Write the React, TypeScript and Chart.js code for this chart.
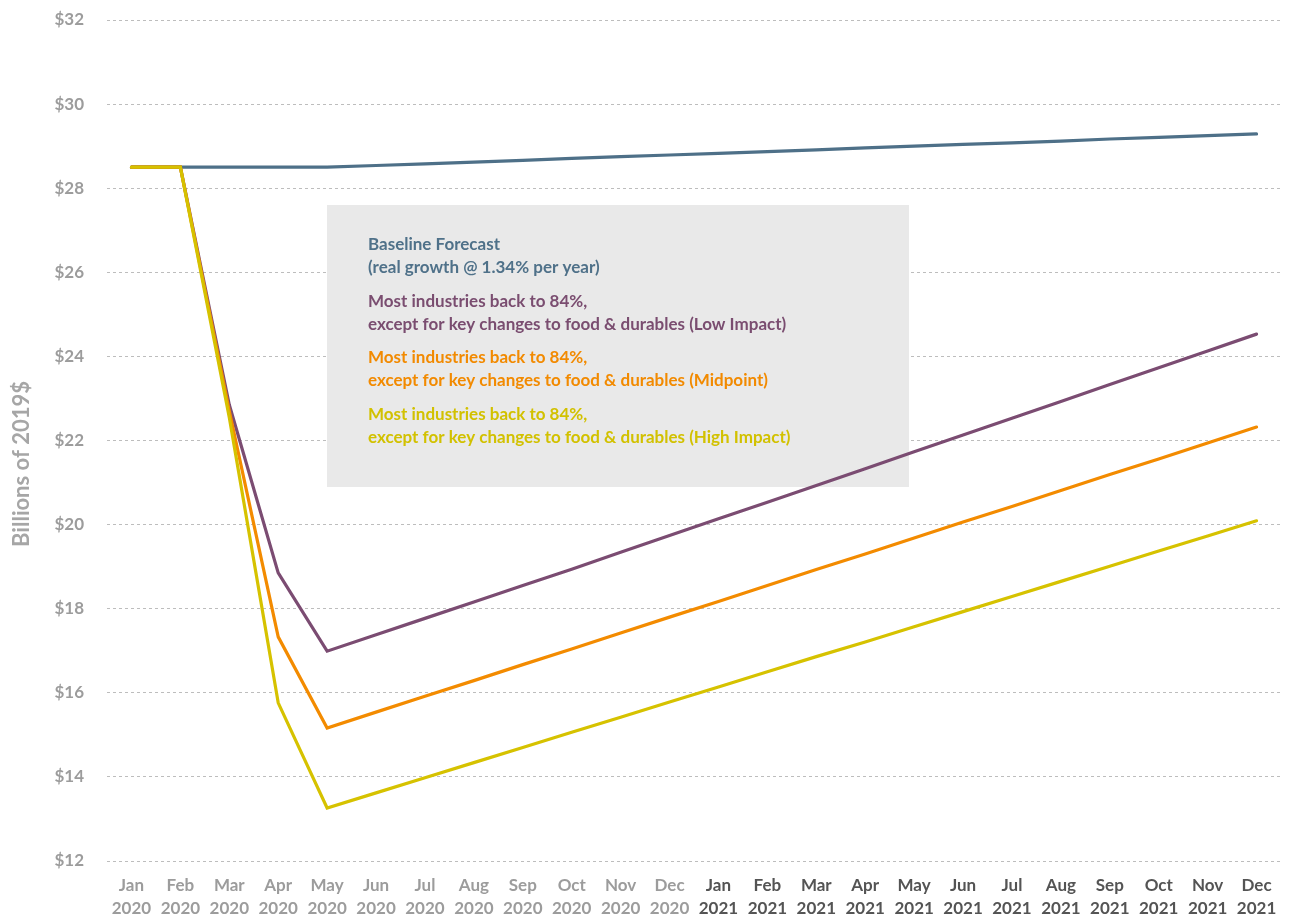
import React, { useEffect, useRef } from "react";
import { Chart, registerables } from "chart.js";

Chart.register(...registerables);

const months = ["Jan", "Feb", "Mar", "Apr", "May", "Jun", "Jul", "Aug", "Sep", "Oct", "Nov", "Dec"];
const years = ["2020", "2021"];
const categories: string[][] = [
  ...months.map((m) => [m, years[0]]),
  ...months.map((m) => [m, years[1]]),
];

const baseline = [28.5, 28.5, 28.5, 28.5, 28.5, 28.54, 28.58, 28.62, 28.66, 28.71, 28.75, 28.79, 28.83, 28.87, 28.91, 28.96, 29.0, 29.04, 29.08, 29.12, 29.17, 29.21, 29.25, 29.29];
const lowImpact = [28.5, 28.5, 22.85, 18.85, 16.99, 17.38, 17.77, 18.16, 18.55, 18.94, 19.34, 19.74, 20.14, 20.53, 20.93, 21.33, 21.73, 22.13, 22.53, 22.93, 23.33, 23.73, 24.13, 24.53];
const midpoint = [28.5, 28.5, 22.7, 17.33, 15.16, 15.54, 15.92, 16.29, 16.67, 17.04, 17.42, 17.8, 18.17, 18.55, 18.93, 19.3, 19.68, 20.06, 20.43, 20.81, 21.19, 21.56, 21.94, 22.32];
const highImpact = [28.5, 28.5, 22.55, 15.76, 13.26, 13.62, 13.98, 14.34, 14.7, 15.06, 15.42, 15.78, 16.14, 16.5, 16.86, 17.21, 17.57, 17.93, 18.29, 18.65, 19.01, 19.37, 19.73, 20.09];

const legendLines: { color: string; lines: string[] }[] = [
  { color: "#4F7189", lines: ["Baseline Forecast", "(real growth @ 1.34% per year)"] },
  { color: "#7A4D70", lines: ["Most industries back to 84%,", "except for key changes to food & durables (Low Impact)"] },
  { color: "#F28A00", lines: ["Most industries back to 84%,", "except for key changes to food & durables (Midpoint)"] },
  { color: "#D2C100", lines: ["Most industries back to 84%,", "except for key changes to food & durables (High Impact)"] },
];

const yTitle = "Billions of 2019$";
const FONT = "Lato, 'Noto Sans', sans-serif";

const legendBoxPlugin = {
  id: "legendBox",
  beforeDatasetsDraw(chart: any) {
    const ctx = chart.ctx;
    ctx.save();
    ctx.fillStyle = "#E9E9E9";
    ctx.fillRect(327, 205, 582, 282);
    ctx.font = `700 17px ${FONT}`;
    ctx.textBaseline = "middle";
    ctx.textAlign = "left";
    let y = 245;
    legendLines.forEach((g) => {
      ctx.fillStyle = g.color;
      g.lines.forEach((t, i) => {
        ctx.fillText(t, 368, y + i * 23);
      });
      y += 56.5;
    });
    ctx.restore();
  },
  afterDraw(chart: any) {
    const ctx = chart.ctx;
    ctx.save();
    ctx.translate(22, 464);
    ctx.rotate(-Math.PI / 2);
    ctx.font = `700 22px ${FONT}`;
    ctx.fillStyle = "#A6A6A6";
    ctx.textAlign = "center";
    ctx.textBaseline = "middle";
    ctx.fillText(yTitle, 0, 0);
    ctx.restore();
  },
};

export default function App() {
  const ref = useRef<HTMLCanvasElement | null>(null);
  useEffect(() => {
    if (!ref.current) return;
    const mk = (label: string, data: number[], color: string, order: number) => ({
      label,
      data,
      borderColor: color,
      backgroundColor: color,
      borderWidth: 3.2,
      pointRadius: 0,
      pointHoverRadius: 0,
      tension: 0,
      fill: false,
      borderCapStyle: "round" as const,
      order,
    });
    const chart = new Chart(ref.current, {
      type: "line",
      data: {
        labels: categories,
        datasets: [
          mk("Baseline Forecast", baseline, "#4E7088", 3),
          mk("Low Impact", lowImpact, "#7B4C72", 2),
          mk("Midpoint", midpoint, "#F38B00", 1),
          mk("High Impact", highImpact, "#D6C200", 0),
        ],
      },
      options: {
        animation: false,
        responsive: false,
        maintainAspectRatio: false,
        layout: { autoPadding: false, padding: { top: 20, right: 9, left: 0, bottom: 0 } },
        plugins: { legend: { display: false }, tooltip: { enabled: false } },
        scales: {
          x: {
            offset: true,
            grid: { display: false, drawTicks: false },
            border: { display: false },
            ticks: {
              maxRotation: 0,
              autoSkip: false,
              padding: 13,
              color: (c: any) => (c.index >= 12 ? "#545454" : "#9C9C9C"),
              font: { family: FONT, size: 17, weight: "bold", lineHeight: 1.35 },
            },
            afterFit: (s: any) => {
              s.height = 59;
              s.paddingLeft = 0;
              s.paddingRight = 0;
            },
          },
          y: {
            min: 12,
            max: 32,
            grid: {
              drawTicks: false,
              color: "#BDBDBD",
              lineWidth: 1,
            },
            border: { display: false, dash: [3, 3] },
            ticks: {
              stepSize: 2,
              padding: 23,
              color: "#9C9C9C",
              font: { family: FONT, size: 17, weight: "bold" },
              callback: (v: any) => "$" + v,
            },
            afterFit: (s: any) => {
              s.width = 107;
              s.paddingTop = 0;
              s.paddingBottom = 0;
            },
          },
        },
      },
      plugins: [legendBoxPlugin],
    } as any);
    return () => chart.destroy();
  }, []);
  return (
    <div style={{ position: "fixed", left: 0, top: 0, width: 1290, height: 920, background: "#fff" }}>
      <canvas ref={ref} width={1290} height={920} style={{ width: 1290, height: 920, display: "block" }} />
    </div>
  );
}
